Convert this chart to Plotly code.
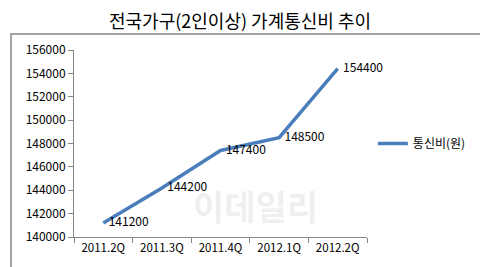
import plotly.graph_objects as go

categories = ["2011.2Q", "2011.3Q", "2011.4Q", "2012.1Q", "2012.2Q"]
values = [141200, 144200, 147400, 148500, 154400]
series_name = "통신비(원)"
title_text = "전국가구(2인이상) 가계통신비 추이"
y_ticks = list(range(140000, 156001, 2000))

FONT = "Noto Sans CJK KR"

fig = go.Figure()
fig.add_trace(go.Scatter(
    x=categories, y=values, name=series_name,
    mode="lines+text",
    line=dict(color="#4a7ebb", width=3.5),
    text=["\u00a0\u00a0" + str(v) for v in values],
    textposition="middle right",
    textfont=dict(family=FONT, size=12, color="#000000"),
    cliponaxis=False,
))

fig.update_layout(
    width=488, height=267,
    margin=dict(l=66, r=129, t=42, b=38),
    paper_bgcolor="white", plot_bgcolor="white",
    font=dict(family=FONT, size=11, color="#000000"),
    title=dict(text=title_text, x=232/488, xanchor="center", y=1 - 14/267, yanchor="middle",
               font=dict(family=FONT, size=18, color="#000000")),
    showlegend=True,
    legend=dict(x=1.02, y=0.5, xanchor="left", yanchor="middle",
                font=dict(family=FONT, size=12), itemwidth=30,
                bgcolor="rgba(0,0,0,0)"),
    xaxis=dict(type="category", range=[-0.5, 4.5], showline=True, linecolor="#868686",
               linewidth=1, ticks="outside", tickson="boundaries", ticklen=5,
               tickcolor="#868686", showgrid=False, tickfont=dict(size=11.5), zeroline=False),
    yaxis=dict(range=[140000, 156000], tickvals=y_ticks, tickformat="d",
               ticksuffix="\u00a0\u00a0",
               showline=True, linecolor="#868686", linewidth=1, ticks="outside", ticklen=5,
               tickcolor="#868686", showgrid=False, zeroline=False, tickfont=dict(size=12)),
    shapes=[dict(type="rect", xref="paper", yref="paper",
                 x0=-63/293, x1=(484-66)/293, y0=-(263-229)/187, y1=1 + (42-26)/187,
                 line=dict(color="#868686", width=1.5), fillcolor="rgba(0,0,0,0)", layer="below")],
    annotations=[dict(text="<b>이데일리</b>", xref="paper", yref="paper",
                      x=(247-66)/293, y=-(224-229)/187, showarrow=False,
                      font=dict(family=FONT, size=34, color="rgba(200,200,200,0.3)"))],
)

fig.write_html("out.html")
